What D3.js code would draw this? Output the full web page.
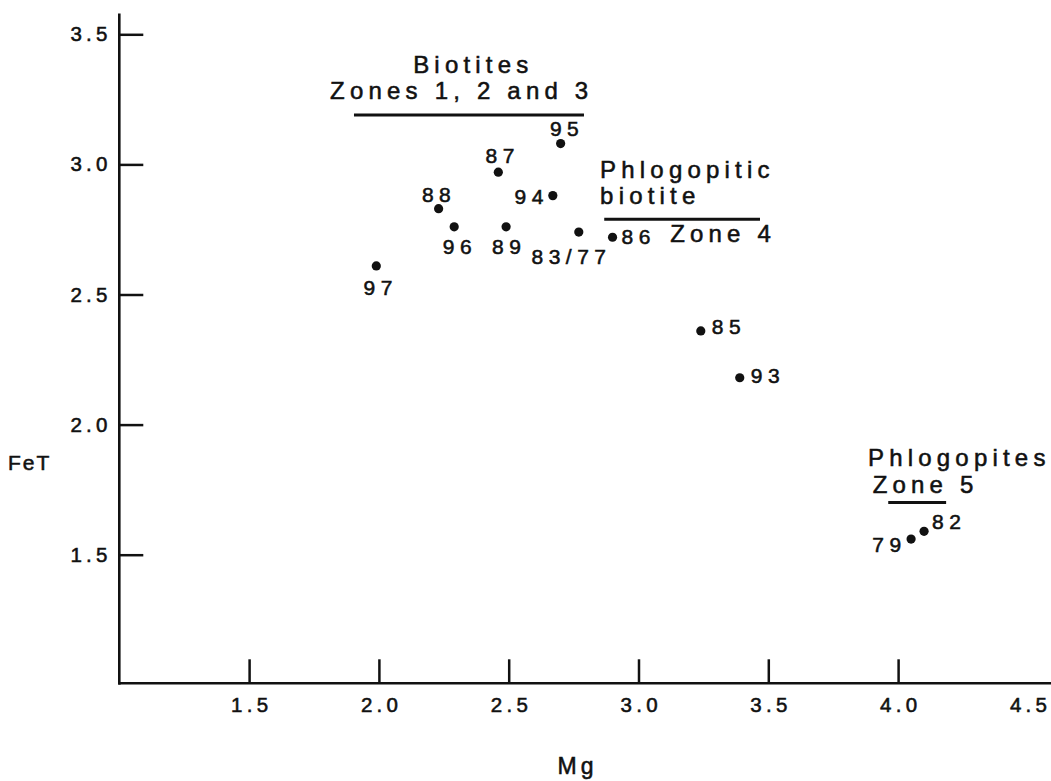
<!DOCTYPE html>
<html>
<head>
<meta charset="utf-8">
<script src="https://cdn.jsdelivr.net/npm/d3@7"></script>
<style>
  html, body { margin: 0; padding: 0; background: #fff; }
  svg { display: block; }
  text { font-family: "Liberation Sans", Arial, Helvetica, sans-serif; fill: #111; stroke: #111; stroke-width: 0.55px; }
</style>
</head>
<body>
<svg id="chart" width="1051" height="781"></svg>
<script>
// ---- data ----
const sampleLabels = ["97", "88", "96", "87", "89", "94", "95", "83/77", "86", "85", "93", "79", "82"];
const mgValues     = [1.99, 2.23, 2.29, 2.46, 2.49, 2.67, 2.70, 2.77, 2.90, 3.24, 3.39, 4.05, 4.10];
const feTValues    = [2.61, 2.83, 2.76, 2.97, 2.76, 2.88, 3.08, 2.74, 2.72, 2.36, 2.18, 1.56, 1.59];

const xTickValues = [1.5, 2.0, 2.5, 3.0, 3.5, 4.0, 4.5];
const xTickLabels = ["1.5", "2.0", "2.5", "3.0", "3.5", "4.0", "4.5"];
const yTickValues = [1.5, 2.0, 2.5, 3.0, 3.5];
const yTickLabels = ["1.5", "2.0", "2.5", "3.0", "3.5"];

const groupTexts  = [["Biotites"], ["Zones 1, 2 and 3"], ["Phlogopitic"], ["biotite"], ["Zone 4"], ["Phlogopites"], ["Zone 5"]];
// group-text anchors in data units (Mg, FeT)
const groupTextMg  = [2.132, 1.812, 2.852, 2.852, 3.122, 3.884, 3.902];
const groupTextFeT = [3.353, 3.250, 2.947, 2.847, 2.700, 1.842, 1.739];
// underline bars: [Mg start, Mg end, FeT]
const barMgStart = [1.904, 2.868, 3.962];
const barMgEnd   = [2.790, 3.468, 4.185];
const barFeT     = [3.190, 2.789, 1.701];

// ---- layout ----
const W = 1051, H = 781;
const svg = d3.select("#chart");
svg.append("rect").attr("width", W).attr("height", H).attr("fill", "#fff");

const x = d3.scaleLinear().domain([1.0, 4.5]).range([119.3, 1027.9]);
const y = d3.scaleLinear().domain([1.0, 3.5]).range([684.8, 34.3]);

const ink = "#111";
const axisY0 = y(1.0) - 1.5;

// label placement: [anchor, dx, dy] in px relative to point
const labelPlacement = [
  ["middle", 1.7, 29], ["middle", -2.3, -7], ["middle", 3, 27.3], ["middle", 1.7, -9.7],
  ["middle", 0.3, 27.3], ["end", -9.4, 8.3], ["middle", 3.7, -7.3], ["middle", -10, 31.7],
  ["start", 9, 6.3], ["start", 11, 2.6], ["start", 11, 5.4], ["end", -10, 13.4], ["start", 8, -2.7]
];

// ---- x axis ----
const xAxis = d3.axisBottom(x)
  .tickValues(xTickValues)
  .tickFormat((d, i) => xTickLabels[i])
  .tickSizeInner(-24)
  .tickSizeOuter(0)
  .tickPadding(14);
const gx = svg.append("g").attr("transform", `translate(0,${axisY0})`).call(xAxis);
gx.select(".domain").remove();
gx.selectAll(".tick line").attr("stroke", ink).attr("stroke-width", 2.5)
  .filter(d => d === 4.5).remove();
gx.selectAll(".tick text")
  .attr("font-family", "Liberation Sans, Arial, sans-serif")
  .attr("font-size", 20.5).attr("letter-spacing", 4.3).attr("fill", ink)
  .attr("dx", 2.2);
svg.append("line")
  .attr("x1", x(1.0)).attr("x2", W).attr("y1", axisY0).attr("y2", axisY0)
  .attr("stroke", ink).attr("stroke-width", 2.6);

// ---- y axis ----
const yAxis = d3.axisLeft(y)
  .tickValues(yTickValues)
  .tickFormat((d, i) => yTickLabels[i])
  .tickSizeInner(-24)
  .tickSizeOuter(0)
  .tickPadding(7.5);
const gy = svg.append("g").attr("transform", `translate(${x(1.0)},0)`).call(yAxis);
gy.select(".domain").remove();
gy.selectAll(".tick line").attr("stroke", ink).attr("stroke-width", 2.5);
gy.selectAll(".tick text")
  .attr("font-family", "Liberation Sans, Arial, sans-serif")
  .attr("font-size", 20.5).attr("letter-spacing", 4.3).attr("fill", ink);
svg.append("line")
  .attr("x1", x(1.0)).attr("x2", x(1.0)).attr("y1", y(3.58)).attr("y2", y(1.0))
  .attr("stroke", ink).attr("stroke-width", 2.6);

// ---- axis titles ----
svg.append("text").attr("x", 8).attr("y", 470)
  .attr("font-size", 21).attr("letter-spacing", 2).text("FeT");
svg.append("text").attr("x", (x(2.5) + x(3.0)) / 2 + 4).attr("y", 774)
  .attr("text-anchor", "middle").attr("font-size", 23).attr("letter-spacing", 4)
  .text("Mg");

// ---- group annotations ----
svg.append("g").selectAll("text").data(groupTexts).join("text")
  .attr("x", (d, i) => x(groupTextMg[i]))
  .attr("y", (d, i) => y(groupTextFeT[i]))
  .attr("font-size", 24).attr("letter-spacing", 5.2)
  .text(d => d[0]);

svg.append("g").selectAll("line").data(barFeT).join("line")
  .attr("x1", (d, i) => x(barMgStart[i]))
  .attr("x2", (d, i) => x(barMgEnd[i]))
  .attr("y1", d => y(d)).attr("y2", d => y(d))
  .attr("stroke", ink).attr("stroke-width", 3);

// ---- points ----
const pts = sampleLabels.map((s, i) => ({ s, mg: mgValues[i], fe: feTValues[i], p: labelPlacement[i] }));
svg.append("g").selectAll("circle").data(pts).join("circle")
  .attr("cx", d => x(d.mg)).attr("cy", d => y(d.fe)).attr("r", 4.6).attr("fill", ink);

const LS = 5.5;
svg.append("g").selectAll("text").data(pts).join("text")
  .attr("x", d => {
    const [a, dx] = d.p;
    const adj = a === "middle" ? LS / 2 : a === "end" ? LS : 0;
    return x(d.mg) + dx + adj;
  })
  .attr("y", d => y(d.fe) + d.p[2])
  .attr("text-anchor", d => d.p[0])
  .attr("font-size", 21).attr("letter-spacing", LS)
  .text(d => d.s);
</script>
</body>
</html>
